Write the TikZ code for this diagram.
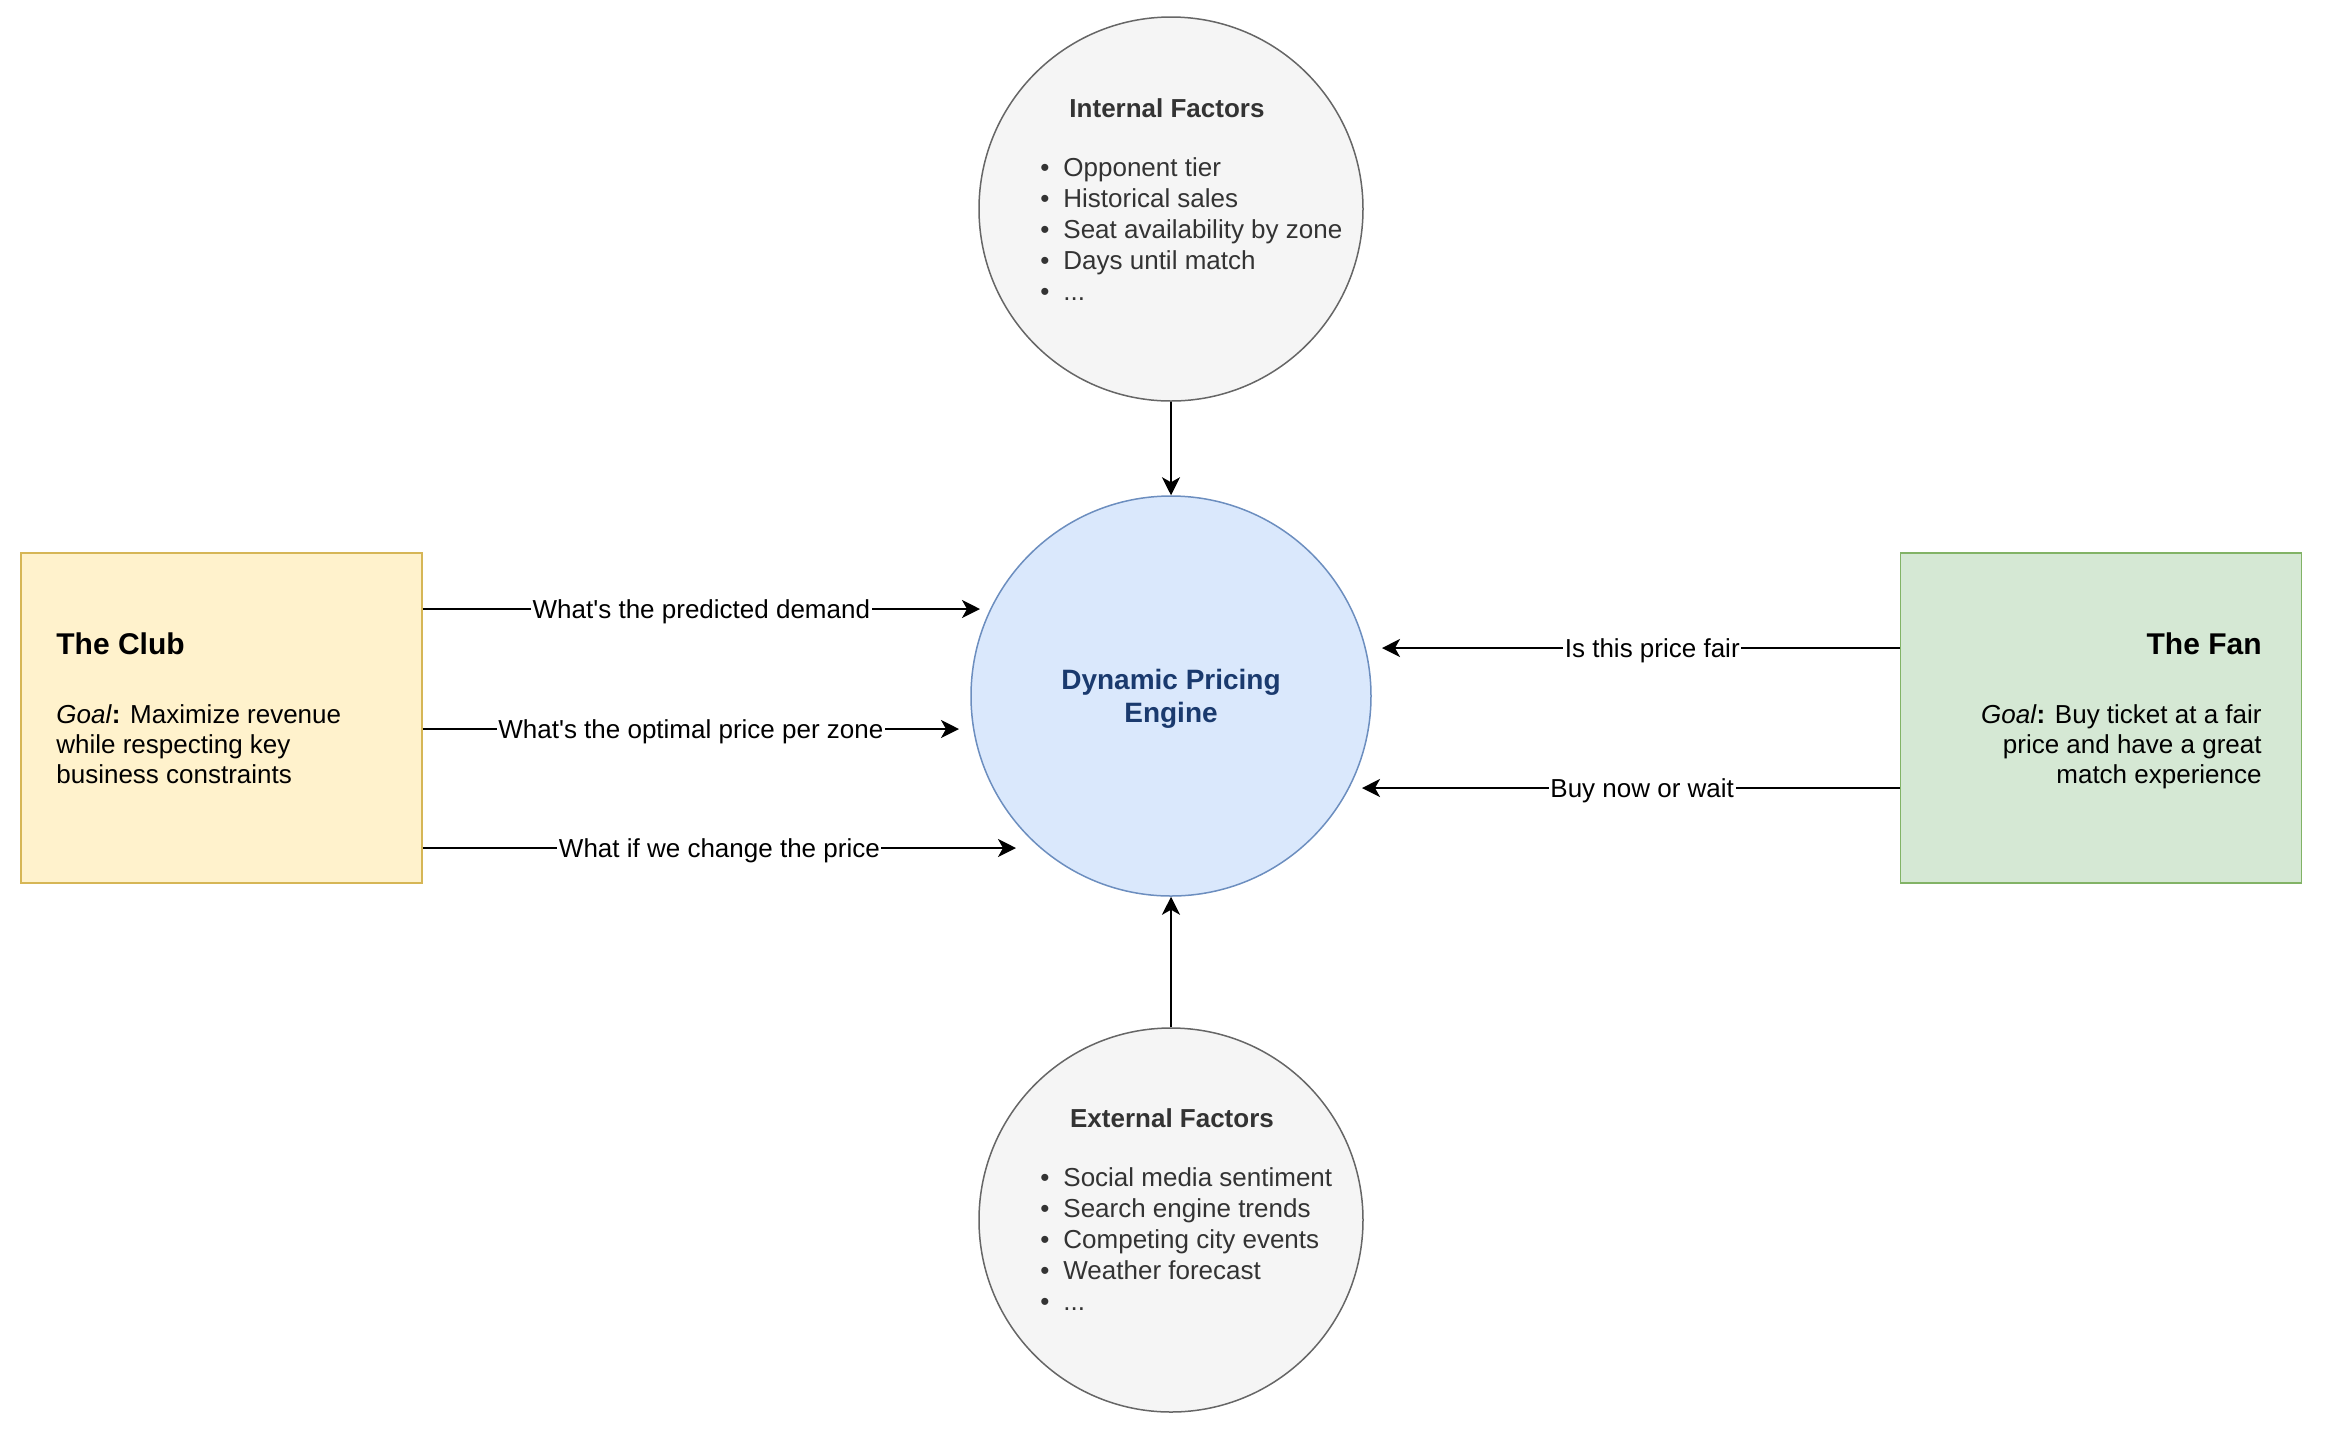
\documentclass[tikz,border=0pt]{standalone}
\usepackage{fontspec}
\setmainfont{Liberation Sans}
\usetikzlibrary{arrows.meta}
\definecolor{clubfill}{HTML}{FFF2CC}
\definecolor{clubline}{HTML}{D6B656}
\definecolor{fanfill}{HTML}{D5E8D4}
\definecolor{fanline}{HTML}{82B366}
\definecolor{engfill}{HTML}{DAE8FC}
\definecolor{engline}{HTML}{6C8EBF}
\definecolor{engtext}{HTML}{1A3A6E}
\definecolor{facfill}{HTML}{F5F5F5}
\definecolor{facline}{HTML}{666666}
\definecolor{factext}{HTML}{333333}
\begin{document}
\begin{tikzpicture}[x=0.5pt,y=-0.5pt,
  txt/.style={inner sep=0pt, font=\fontsize{13pt}{15pt}\selectfont},
  bold13/.style={inner sep=0pt, font=\fontsize{13pt}{15pt}\selectfont\bfseries},
  head/.style={inner sep=0pt, font=\fontsize{15pt}{18pt}\selectfont\bfseries},
  engtxt/.style={inner sep=0pt, font=\fontsize{14pt}{17pt}\selectfont\bfseries, text=engtext},
  factor/.style={circle, draw=facline, fill=facfill, line width=0.75pt, minimum size=192pt, inner sep=0pt},
  engine/.style={circle, draw=engline, fill=engfill, line width=0.75pt, minimum size=200pt, inner sep=0pt},
  actor/.style={rectangle, line width=0.75pt, minimum width=200.5pt, minimum height=165pt, inner sep=0pt},
  arr/.style={draw=black, line width=1pt, -{Stealth[length=9pt,width=9pt,inset=2.5pt]}},
  lbl/.style={fill=white, inner sep=0.8pt, yshift=-1.2pt, font=\fontsize{13pt}{15pt}\selectfont, text=black},
  bul/.style={inner sep=0pt, font=\fontsize{13pt}{15pt}\selectfont, text=factext},
]
\useasboundingbox (0,0) rectangle (2346,1442);

% shapes
\node[factor] (internal) at (1171,209) {};
\node[factor] (external) at (1171,1220) {};
\node[engine] (engine) at (1171,696) {};
\node[actor, draw=clubline, fill=clubfill] (club) at (221.5,718) {};
\node[actor, draw=fanline, fill=fanfill] (fan) at (2101,718) {};

% internal factors text
\node[bold13, text=factext, anchor=base] (inttitle) at (1167,117) {Internal Factors};
\foreach \i/\t [count=\k] in {176/Opponent tier, 207/Historical sales, 238/Seat availability by zone, 269/Days until match}{
  \node[bul, anchor=base] (intb\k) at (1045,\i) {•};
  \node[bul, anchor=base west] (intt\k) at (1063,\i) {\t};
}
\node[bul, anchor=base] (intb5) at (1045,300) {•};
\node[bul, anchor=base west] (intt5) at (1063,300) {...};

% external factors text
\node[bold13, text=factext, anchor=base] (exttitle) at (1172,1127) {External Factors};
\foreach \i/\t [count=\k] in {1186/Social media sentiment, 1217/Search engine trends, 1248/Competing city events, 1279/Weather forecast}{
  \node[bul, anchor=base] (extb\k) at (1045,\i) {•};
  \node[bul, anchor=base west] (extt\k) at (1063,\i) {\t};
}
\node[bul, anchor=base] (extb5) at (1045,1310) {•};
\node[bul, anchor=base west] (extt5) at (1063,1310) {...};

% engine text
\node[engtxt, anchor=base] (eng1) at (1171,689) {Dynamic Pricing};
\node[engtxt, anchor=base] (eng2) at (1171,722) {Engine};

% club text
\node[head, anchor=base west] (clubtitle) at (56,654) {The Club};
\node[txt, anchor=base west] (club1) at (56,723) {\textit{Goal}\textbf{:} Maximize revenue};
\node[txt, anchor=base west] (club2) at (56,753) {while respecting key};
\node[txt, anchor=base west] (club3) at (56,783) {business constraints};

% fan text
\node[head, anchor=base east] (fantitle) at (2262,654) {The Fan};
\node[txt, anchor=base east] (fan1) at (2262,723) {\textit{Goal}\textbf{:} Buy ticket at a fair};
\node[txt, anchor=base east] (fan2) at (2262,753) {price and have a great};
\node[txt, anchor=base east] (fan3) at (2262,783) {match experience};

% connector ends
\coordinate (e1) at (980,609);
\coordinate (e2) at (959,729);
\coordinate (e3) at (1016,848);
\coordinate (f1) at (1382,648);
\coordinate (f2) at (1362,788);

% connectors
\draw[arr] (internal.south) -- (engine.north);
\draw[arr] (external.north) -- (engine.south);
\draw[arr] (club.east |- e1) -- node[lbl] {What\textquotesingle s the predicted demand} (e1);
\draw[arr] (club.east |- e2) -- node[lbl] {What\textquotesingle s the optimal price per zone} (e2);
\draw[arr] (club.east |- e3) -- node[lbl] {What if we change the price} (e3);
\draw[arr] (fan.west |- f1) -- node[lbl, pos=0.478] {Is this price fair} (f1);
\draw[arr] (fan.west |- f2) -- node[lbl, pos=0.479] {Buy now or wait} (f2);
\end{tikzpicture}
\end{document}
